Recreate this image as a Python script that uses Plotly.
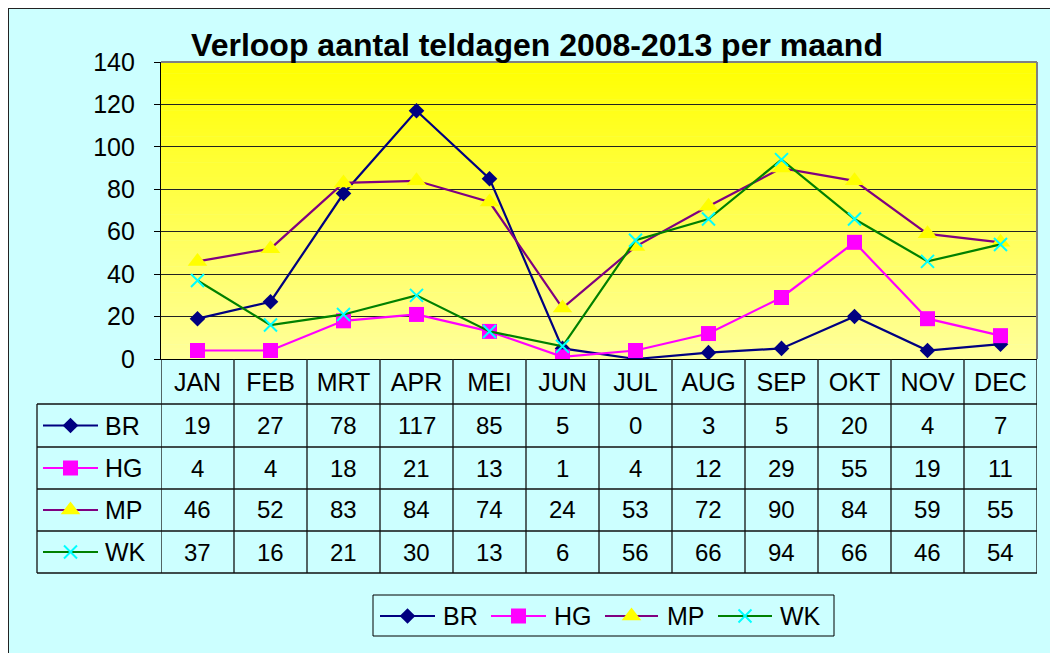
import plotly.graph_objects as go

# ---------------- data ----------------
months = ["JAN", "FEB", "MRT", "APR", "MEI", "JUN", "JUL", "AUG", "SEP", "OKT", "NOV", "DEC"]
br = [19, 27, 78, 117, 85, 5, 0, 3, 5, 20, 4, 7]
hg = [4, 4, 18, 21, 13, 1, 4, 12, 29, 55, 19, 11]
mp = [46, 52, 83, 84, 74, 24, 53, 72, 90, 84, 59, 55]
wk = [37, 16, 21, 30, 13, 6, 56, 66, 94, 66, 46, 54]
series_names = ["BR", "HG", "MP", "WK"]
y_ticks = [0, 20, 40, 60, 80, 100, 120, 140]
title_text = "Verloop aantal teldagen 2008-2013 per maand"

# ---------------- styles ----------------
W, H = 1058, 653
OFF = 8  # page body margin
PL, PR, PT, PB = 161, 1037, 62, 359
FONT = "Arial, Liberation Sans, sans-serif"
styles = {
    "BR": dict(line="#000080", symbol="diamond", mcolor="#000080", size=12, mline=0),
    "HG": dict(line="#FF00FF", symbol="square", mcolor="#FF00FF", size=15, mline=0),
    "MP": dict(line="#800080", symbol="triangle-up", mcolor="#FFFF00", size=17, mline=0),
    "WK": dict(line="#008000", symbol="x-thin", mcolor="#00FFFF", size=13, mline=2),
}
data = {"BR": br, "HG": hg, "MP": mp, "WK": wk}


def fx(x):
    return (x - OFF) / W


def fy(y):
    return 1 - (y - OFF) / H


def marker_of(s):
    st = styles[s]
    m = dict(symbol=st["symbol"], size=st["size"], color=st["mcolor"])
    if st["mline"]:
        m["line"] = dict(color=st["mcolor"], width=st["mline"])
    else:
        m["line"] = dict(width=0)
    return m


fig = go.Figure()

for s in series_names:
    fig.add_trace(go.Scatter(
        x=months, y=data[s], name=s, mode="lines+markers",
        line=dict(color=styles[s]["line"], width=2.2),
        marker=marker_of(s), showlegend=False,
        xaxis="x", yaxis="y",
    ))


# legend keys (table + bottom legend) on a full-figure pixel axis
def add_key(s, x0, x1, yc):
    fig.add_trace(go.Scatter(x=[x0 - OFF, x1 - OFF], y=[yc - OFF, yc - OFF], mode="lines",
                             line=dict(color=styles[s]["line"], width=2.2),
                             showlegend=False, hoverinfo="skip",
                             xaxis="x2", yaxis="y2"))
    fig.add_trace(go.Scatter(x=[(x0 + x1) / 2 - OFF], y=[yc - OFF], mode="markers",
                             marker=marker_of(s), showlegend=False, hoverinfo="skip",
                             xaxis="x2", yaxis="y2"))


row_edges = [404, 447, 489, 531, 573]
annotations = []
shapes = []

# chart-area border
shapes.append(dict(type="rect", xref="paper", yref="paper", x0=0, x1=1.01,
                   y0=-0.01, y1=1, line=dict(color="#222222", width=2), layer="below"))

# gradient plot-area
N = 80
for i in range(N):
    t = (i + 0.5) / N
    g = int(round(0x00 + (0x9C - 0x00) * t))
    ya = PT + (PB - PT) * i / N
    yb = PT + (PB - PT) * (i + 1) / N + 0.6
    shapes.append(dict(type="rect", xref="paper", yref="paper", x0=fx(PL), x1=fx(PR),
                       y0=fy(yb), y1=fy(ya), fillcolor="rgb(255,255,%d)" % g,
                       line=dict(width=0), layer="below"))

# grey border top/right of plot area
shapes.append(dict(type="line", xref="paper", yref="paper", x0=fx(PL), x1=fx(PR),
                   y0=fy(PT), y1=fy(PT), line=dict(color="#808080", width=2)))
shapes.append(dict(type="line", xref="paper", yref="paper", x0=fx(PR), x1=fx(PR),
                   y0=fy(PT), y1=fy(PB), line=dict(color="#808080", width=2)))

# table vertical lines at category boundaries
for i in range(len(months) + 1):
    shapes.append(dict(type="line", xref="x", yref="paper", x0=i - 0.5, x1=i - 0.5,
                       y0=fy(PB), y1=fy(row_edges[-1]), line=dict(color="#111111", width=1.3)))
# label column left edge
shapes.append(dict(type="line", xref="paper", yref="paper", x0=fx(37), x1=fx(37),
                   y0=fy(row_edges[0]), y1=fy(row_edges[-1]), line=dict(color="#111111", width=1.3)))
for y in row_edges:
    shapes.append(dict(type="line", xref="paper", yref="paper", x0=fx(37), x1=fx(PR),
                       y0=fy(y), y1=fy(y), line=dict(color="#111111", width=1.3)))

# table rows
for r, s in enumerate(series_names):
    yc = (row_edges[r] + row_edges[r + 1]) / 2
    add_key(s, 43, 98, yc)
    annotations.append(dict(text=s, xref="paper", yref="paper", x=fx(103), y=fy(yc),
                            xanchor="left", yanchor="middle", showarrow=False,
                            font=dict(family=FONT, size=25, color="black")))
    for m, v in zip(months, data[s]):
        annotations.append(dict(text=str(v), xref="x", yref="paper", x=m, y=fy(yc),
                                xanchor="center", yanchor="middle", showarrow=False,
                                font=dict(family=FONT, size=24, color="black")))

# bottom legend
shapes.append(dict(type="rect", xref="paper", yref="paper", x0=fx(373), x1=fx(834),
                   y0=fy(636), y1=fy(595), line=dict(color="black", width=1)))
leg_pos = [(380, 435, 441), (491, 546, 552), (605, 658, 665), (718, 772, 778)]
for s, (a, b, t) in zip(series_names, leg_pos):
    add_key(s, a, b, 616)
    annotations.append(dict(text=s, xref="paper", yref="paper", x=fx(t), y=fy(616),
                            xanchor="left", yanchor="middle", showarrow=False,
                            font=dict(family=FONT, size=25, color="black")))

fig.update_layout(
    width=W, height=H,
    margin=dict(l=0, r=0, t=0, b=0),
    paper_bgcolor="#CCFFFF", plot_bgcolor="rgba(0,0,0,0)",
    showlegend=False,
    title=dict(text="<b>%s</b>" % title_text, x=fx(537), xanchor="center",
               y=fy(45), yanchor="middle", xref="paper", yref="paper",
               font=dict(family=FONT, size=32, color="black")),
    xaxis=dict(domain=[fx(PL), fx(PR)], type="category", range=[-0.5, 11.5],
               showline=True, linecolor="black", linewidth=1.3, showgrid=False,
               ticks="", tickfont=dict(family=FONT, size=25, color="black"),
               ticklabelstandoff=1, automargin=False, zeroline=False, anchor="y"),
    yaxis=dict(domain=[fy(PB), fy(PT)], range=[0, 140], tickvals=y_ticks,
               showline=True, linecolor="black", linewidth=1.3,
               showgrid=True, gridcolor="#222222", gridwidth=1,
               ticks="outside", ticklen=6, tickcolor="black", tickwidth=1.3,
               tickfont=dict(family=FONT, size=25, color="black"),
               ticklabelstandoff=14, automargin=False, zeroline=False, anchor="x"),
    xaxis2=dict(domain=[0, 1], range=[0, W], visible=False, anchor="y2", fixedrange=True),
    yaxis2=dict(domain=[0, 1], range=[H, 0], visible=False, anchor="x2", fixedrange=True),
    shapes=shapes,
    annotations=annotations,
)

fig.write_html("out.html")
